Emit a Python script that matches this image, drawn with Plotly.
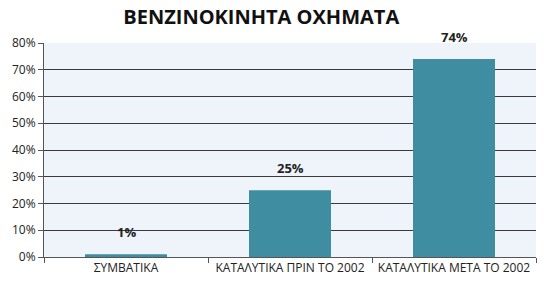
import plotly.graph_objects as go

categories = ["ΣΥΜΒΑΤΙΚΑ", "ΚΑΤΑΛΥΤΙΚΑ ΠΡΙΝ ΤΟ 2002", "ΚΑΤΑΛΥΤΙΚΑ ΜΕΤΑ ΤΟ 2002"]
values = [0.01, 0.25, 0.74]
labels = ["1%", "25%", "74%"]
title = "ΒΕΝΖΙΝΟΚΙΝΗΤΑ ΟΧΗΜΑΤΑ"

fig = go.Figure()
fig.add_trace(go.Bar(x=categories, y=values, marker_color="#3e8da1",
                     marker_line_width=0, width=0.5))
for c, v, t in zip(categories, values, labels):
    fig.add_annotation(x=c, y=v, text="<b>" + t + "</b>", showarrow=False,
                       yanchor="middle", yshift=22,
                       font=dict(family="Open Sans", size=13, color="#222"))

fig.update_layout(
    width=550, height=293,
    margin=dict(l=44, r=14, t=43, b=36),
    paper_bgcolor="white", plot_bgcolor="#eef4f9",
    showlegend=False,
    title=dict(text="<b>" + title + "</b>", x=0.475, xanchor="center",
               y=1 - 17 / 293, yanchor="middle", yref="container",
               font=dict(family="Open Sans", size=20, color="#111")),
    font=dict(family="Open Sans", size=12, color="#222"),
)
fig.update_yaxes(range=[0, 0.8], dtick=0.1, tickformat=".0%",
                 showgrid=True, gridcolor="#3a3a3a", gridwidth=1,
                 showline=True, linecolor="#555", linewidth=1,
                 ticks="outside", ticklen=5, tickcolor="#555",
                 zeroline=False, fixedrange=True, tickfont=dict(size=12))
fig.update_xaxes(showline=True, linecolor="#555", linewidth=1,
                 ticks="outside", ticklen=5, tickcolor="#555",
                 tickson="boundaries", showgrid=False,
                 tickfont=dict(size=12))
fig.write_html("out.html")
